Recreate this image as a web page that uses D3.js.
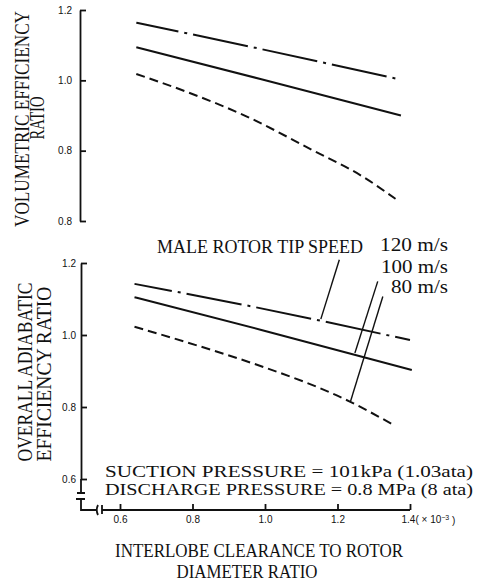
<!DOCTYPE html>
<html>
<head>
<meta charset="utf-8">
<script src="https://cdn.jsdelivr.net/npm/d3@7"></script>
<style>
  body { margin: 0; background: #fff; }
  .axis path, .axis line { stroke: #111; stroke-width: 1.8; }
  .axis text { font-family: "Liberation Sans", Arial, sans-serif; font-size: 10px; fill: #111; }
  .label { font-family: "Liberation Serif", "Times New Roman", serif; fill: #111; }
</style>
</head>
<body>
<div class="chart-container"></div>
<script>
// 讀自圖上的數值
const xTicks = [0.6, 0.8, 1.0, 1.2, 1.4];
const yTicks = [0.6, 0.8, 1.0, 1.2];
const topTickLabels = ['0.8', '0.8', '1.0', '1.2'];   // printed as in the figure
const botTickLabels = ['0.6', '0.8', '1.0', '1.2'];
const speeds = ['120 m/s', '100 m/s', '80 m/s'];

// volumetric efficiency ratio (top)
const topX120 = [0.645, 0.98, 1.37];
const topY120 = [1.164, 1.091, 1.003];
const topX100 = [0.645, 0.99, 1.375];
const topY100 = [1.094, 1.003, 0.900];
const topX80 = [0.645, 0.79, 0.95, 1.13, 1.27, 1.36];
const topY80 = [1.018, 0.965, 0.897, 0.802, 0.726, 0.663];

// overall adiabatic efficiency ratio (bottom)
const botX120 = [0.64, 0.95, 1.40];
const botY120 = [1.142, 1.082, 0.986];
const botX100 = [0.64, 0.99, 1.405];
const botY100 = [1.105, 1.014, 0.903];
const botX80 = [0.64, 0.857, 0.967, 1.234, 1.35];
const botY80 = [1.023, 0.957, 0.921, 0.815, 0.753];

const zip = (xs, ys) => xs.map((x, i) => ({x: x, y: ys[i]}));

function setupCanvas() {
    const svg_width = 483;
    const svg_height = 582;
    const svg = d3.select('.chart-container').append('svg')
        .attr('width', svg_width).attr('height', svg_height);

    const xScale = d3.scaleLinear().domain([0.6, 1.4]).range([120, 410]);
    const yTop = d3.scaleLinear().domain([0.6, 1.2]).range([221, 10]);
    const yBot = d3.scaleLinear().domain([0.6, 1.2]).range([479, 263]);

    // y axes
    const topAxis = d3.axisLeft(yTop).tickValues(yTicks)
        .tickFormat((d, i) => topTickLabels[i])
        .tickSizeInner(-6).tickSizeOuter(0).tickPadding(8);
    svg.append('g').attr('class', 'axis').attr('transform', 'translate(80,0)').call(topAxis);

    const botAxis = d3.axisLeft(yBot).tickValues(yTicks)
        .tickFormat((d, i) => botTickLabels[i])
        .tickSizeInner(-6).tickSizeOuter(0).tickPadding(5);
    svg.append('g').attr('class', 'axis').attr('transform', 'translate(81,0)').call(botAxis);

    // x axis
    const xAxis = d3.axisBottom(xScale).tickValues(xTicks)
        .tickSizeInner(-6).tickSizeOuter(0).tickPadding(6)
        .tickFormat(d3.format('.1f'));
    const xAxisDraw = svg.append('g').attr('class', 'axis x').attr('transform', 'translate(0,510)').call(xAxis);
    xAxisDraw.select('.domain').remove();
    const lastTick = xAxisDraw.selectAll('.tick text').filter(d => d === 1.4);
    lastTick.text('').attr('text-anchor', 'start').attr('x', -9);
    lastTick.append('tspan').text('1.4( × 10');
    lastTick.append('tspan').text('−3').attr('dy', '-0.4em').style('font-size', '7px');
    lastTick.append('tspan').text(' )').attr('dy', '0.4em');

    // broken axis corner
    const y0 = yBot(0.6);
    const brk = d3.path();
    brk.moveTo(81, y0); brk.lineTo(81, y0 + 14);
    brk.moveTo(77, y0 + 14); brk.lineTo(85, y0 + 14);
    brk.moveTo(76, y0 + 20); brk.lineTo(85, y0 + 20);
    brk.moveTo(81, y0 + 20); brk.lineTo(81, 510); brk.lineTo(96, 510);
    brk.moveTo(98, 505); brk.quadraticCurveTo(95.5, 510, 98, 515);
    brk.moveTo(102, 505); brk.lineTo(102, 514);
    brk.moveTo(102, 510); brk.lineTo(xScale(1.4), 510);
    svg.append('path').attr('d', brk.toString())
        .attr('fill', 'none').attr('stroke', '#111').attr('stroke-width', 1.8);

    // curves
    const styles = [
        {dash: '56,6,3,6', offsetTop: 13, offsetBot: 18},
        {dash: null, offsetTop: 0, offsetBot: 0},
        {dash: '9,5', offsetTop: 0, offsetBot: 0}
    ];
    const topSeries = [zip(topX120, topY120), zip(topX100, topY100), zip(topX80, topY80)];
    const botSeries = [zip(botX120, botY120), zip(botX100, botY100), zip(botX80, botY80)];

    const lineTop = d3.line().x(d => xScale(d.x)).y(d => yTop(d.y)).curve(d3.curveMonotoneX);
    const lineBot = d3.line().x(d => xScale(d.x)).y(d => yBot(d.y)).curve(d3.curveMonotoneX);

    svg.selectAll('.top-line').data(topSeries).enter().append('path')
        .attr('class', 'top-line')
        .attr('d', lineTop)
        .attr('fill', 'none').attr('stroke', '#111').attr('stroke-width', 2)
        .attr('stroke-dasharray', (d, i) => styles[i].dash)
        .attr('stroke-dashoffset', (d, i) => styles[i].offsetTop);

    svg.selectAll('.bot-line').data(botSeries).enter().append('path')
        .attr('class', 'bot-line')
        .attr('d', lineBot)
        .attr('fill', 'none').attr('stroke', '#111').attr('stroke-width', 2)
        .attr('stroke-dasharray', (d, i) => styles[i].dash)
        .attr('stroke-dashoffset', (d, i) => styles[i].offsetBot);

    // leader lines (data coordinates of the lower panel)
    const leaders = [
        [[1.205, 1.209], [1.154, 1.044]],
        [[1.311, 1.149], [1.248, 0.950]],
        [[1.325, 1.107], [1.236, 0.816]]
    ];
    svg.selectAll('.leader').data(leaders).enter().append('line')
        .attr('class', 'leader')
        .attr('x1', d => xScale(d[0][0])).attr('y1', d => yBot(d[0][1]))
        .attr('x2', d => xScale(d[1][0])).attr('y2', d => yBot(d[1][1]))
        .attr('stroke', '#111').attr('stroke-width', 1.4);

    // texts
    const addText = (str, x, y, len, size, anchor, rot) => {
        const t = svg.append('text').attr('class', 'label')
            .attr('text-anchor', anchor || 'start')
            .style('font-size', size + 'px')
            .attr('lengthAdjust', 'spacingAndGlyphs')
            .attr('textLength', len)
            .text(str);
        if (rot) t.attr('transform', `translate(${x},${y}) rotate(-90)`);
        else t.attr('x', x).attr('y', y);
        return t;
    };

    addText('VOLUMETRIC EFFICIENCY', 29, 119, 216, 20, 'middle', true);
    addText('RATIO', 44, 118, 43, 20, 'middle', true);
    addText('OVERALL ADIABATIC', 32, 372, 179, 21, 'middle', true);
    addText('EFFICIENCY RATIO', 51, 374, 175, 21, 'middle', true);

    addText('MALE ROTOR TIP SPEED', 157, 253, 206, 19);
    const legendY = [251, 273, 293];
    const legendW = [68, 67, 57];
    speeds.forEach((s, i) => addText(s, 448, legendY[i], legendW[i], 19, 'end'));

    addText('SUCTION PRESSURE = 101kPa (1.03ata)', 105, 477, 368, 17);
    addText('DISCHARGE PRESSURE = 0.8 MPa (8 ata)', 105, 495, 368, 17);

    addText('INTERLOBE CLEARANCE TO ROTOR', 259, 557, 288, 19, 'middle');
    addText('DIAMETER RATIO', 247, 578, 141, 19, 'middle');
}

setupCanvas();
</script>
</body>
</html>
